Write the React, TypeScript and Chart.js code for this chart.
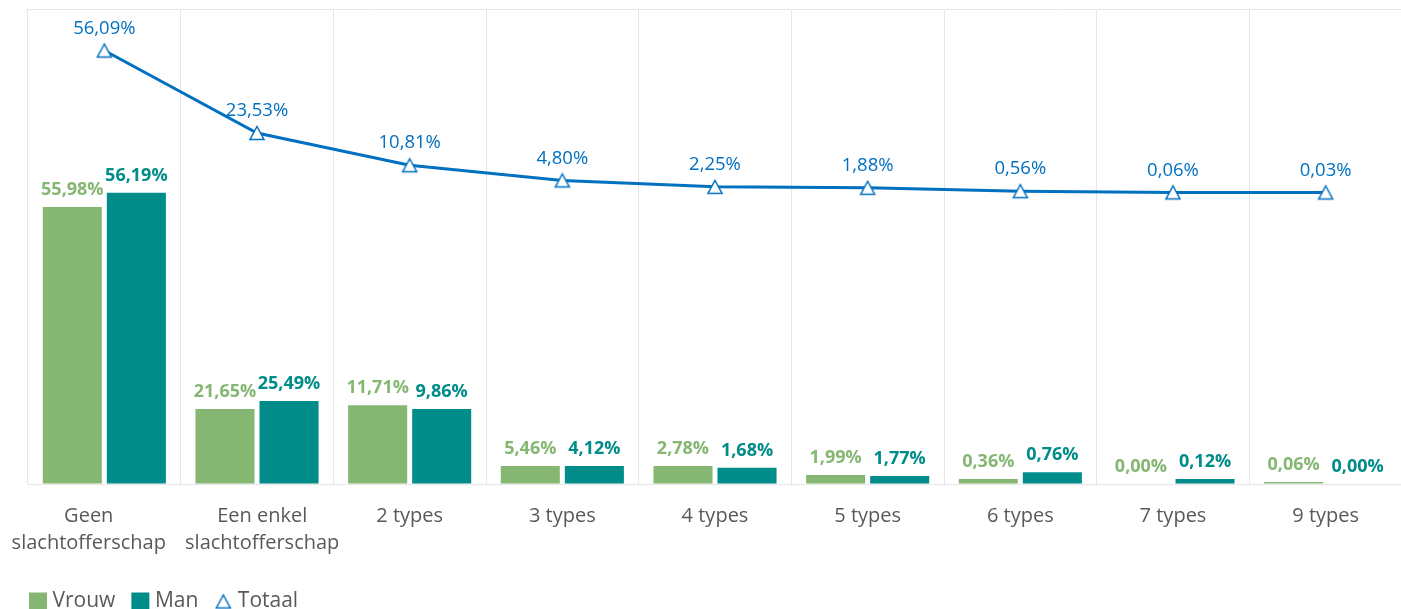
import React, { useEffect, useRef } from 'react';
import { Chart, registerables } from 'chart.js';

Chart.register(...registerables);

const categories: (string | string[])[] = [
  ['Geen', 'slachtofferschap'],
  ['Een enkel', 'slachtofferschap'],
  '2 types',
  '3 types',
  '4 types',
  '5 types',
  '6 types',
  '7 types',
  '9 types',
];

// Bar lengths as drawn in the picture (bar axis units, 0-100)
const vrouwBars = [58.3, 15.8, 16.6, 3.8, 3.8, 1.9, 1.05, 0, 0.4];
const manBars = [61.3, 17.5, 15.8, 3.8, 3.4, 1.7, 2.5, 1.05, 0];

// Printed data labels
const vrouwLabels = [55.98, 21.65, 11.71, 5.46, 2.78, 1.99, 0.36, 0.0, 0.06];
const manLabels = [56.19, 25.49, 9.86, 4.12, 1.68, 1.77, 0.76, 0.12, 0.0];

// Totaal line
const totaalValues = [56.09, 23.53, 10.81, 4.8, 2.25, 1.88, 0.56, 0.06, 0.03];

// Horizontal nudge of the category texts, in spaces (negative = left)
const tickNudge = [-6, 2, 0, 0, 0, 0, 0, 0, 0];

const GREEN = '#85B773';
const TEAL = '#008C88';
const BLUE = '#0070C0';
const GRID = '#E6E6E6';
const TEXT = '#595959';
const FAMILY = '"Open Sans", "DejaVu Sans", sans-serif';

const fmt = (v: number) => v.toFixed(2).replace('.', ',') + '%';

function nudge(label: string | string[], n: number): string | string[] {
  const pad = ' '.repeat(Math.abs(n));
  const f = (s: string) => (n < 0 ? s + pad : pad + s);
  return Array.isArray(label) ? label.map(f) : f(label);
}

function makeTriangle(): HTMLCanvasElement {
  const c = document.createElement('canvas');
  c.width = 18;
  c.height = 18;
  const g = c.getContext('2d')!;
  g.beginPath();
  g.moveTo(9, 2.5);
  g.lineTo(16, 15.5);
  g.lineTo(2, 15.5);
  g.closePath();
  g.fillStyle = '#ffffff';
  g.fill();
  g.lineWidth = 1.5;
  g.strokeStyle = BLUE;
  g.stroke();
  return c;
}

const labelPlugin = {
  id: 'valueLabels',
  afterDatasetsDraw(chart: any) {
    const ctx = chart.ctx;
    ctx.save();
    ctx.textAlign = 'center';
    ctx.textBaseline = 'middle';
    chart.data.datasets.forEach((ds: any, i: number) => {
      const meta = chart.getDatasetMeta(i);
      const isLine = ds.type === 'line';
      ctx.font = isLine ? '18.5px ' + FAMILY : 'bold 18px ' + FAMILY;
      ctx.fillStyle = ds.labelColor;
      meta.data.forEach((el: any, j: number) => {
        const txt = fmt(ds.labelValues[j]);
        ctx.fillText(txt, el.x, el.y - (isLine ? 22 : 17));
      });
    });
    ctx.restore();
  },
};

export default function App() {
  const ref = useRef<HTMLCanvasElement>(null);

  useEffect(() => {
    if (!ref.current) return;
    const tri = makeTriangle();
    const chart = new Chart(ref.current, {
      type: 'bar',
      data: {
        labels: categories,
        datasets: [
          {
            type: 'bar',
            label: 'Vrouw',
            data: vrouwBars,
            backgroundColor: GREEN,
            pointStyle: 'rect',
            yAxisID: 'y',
            order: 1,
            categoryPercentage: 0.839,
            barPercentage: 0.922,
            labelValues: vrouwLabels,
            labelColor: GREEN,
          } as any,
          {
            type: 'bar',
            label: 'Man',
            data: manBars,
            backgroundColor: TEAL,
            pointStyle: 'rect',
            yAxisID: 'y',
            order: 1,
            categoryPercentage: 0.839,
            barPercentage: 0.922,
            labelValues: manLabels,
            labelColor: TEAL,
          } as any,
          {
            type: 'line',
            label: 'Totaal',
            data: totaalValues,
            yAxisID: 'y2',
            borderColor: BLUE,
            backgroundColor: '#ffffff',
            borderWidth: 3,
            pointStyle: tri,
            pointRadius: 8,
            tension: 0,
            order: 0,
            labelValues: totaalValues,
            labelColor: BLUE,
          } as any,
        ],
      },
      options: {
        responsive: false,
        animation: false,
        events: [],
        layout: { autoPadding: false, padding: { left: 13, right: 1, top: 9, bottom: 0 } },
        plugins: {
          legend: {
            position: 'bottom',
            align: 'start',
            labels: {
              usePointStyle: true,
              boxWidth: 8,
              boxHeight: 18,
              padding: 21,
              color: TEXT,
              font: { family: FAMILY, size: 21 },
              sort: (a: any, b: any) => a.datasetIndex - b.datasetIndex,
            },
          },
          tooltip: { enabled: false },
        },
        scales: {
          x: {
            offset: true,
            grid: { color: GRID, offset: true, drawTicks: false },
            border: { color: GRID },
            ticks: {
              color: TEXT,
              padding: 19,
              maxRotation: 0,
              autoSkip: false,
              font: { family: FAMILY, size: 20, lineHeight: 1.35 },
              callback: (_v: any, i: number) => nudge(categories[i], tickNudge[i]),
            },
            afterFit: (s: any) => {
              s.height = 86;
              s.paddingLeft = 0;
              s.paddingRight = 0;
            },
          },
          y: {
            min: 0,
            max: 100,
            grid: { color: GRID, drawTicks: false },
            border: { display: false },
            ticks: { display: false },
            afterBuildTicks: (s: any) => {
              s.ticks = [{ value: 0 }, { value: 100 }];
            },
            afterFit: (s: any) => {
              s.width = 15;
            },
          },
          y2: {
            display: false,
            position: 'right',
            min: -115.1,
            max: 72.5,
          },
        },
      } as any,
      plugins: [labelPlugin],
    });
    return () => chart.destroy();
  }, []);

  return (
    <div
      style={{
        position: 'fixed',
        left: 0,
        top: 0,
        width: 1401,
        height: 609,
        overflow: 'hidden',
        background: '#ffffff',
      }}
    >
      <canvas ref={ref} width={1403} height={622} style={{ width: 1403, height: 622, display: 'block' }} />
    </div>
  );
}
